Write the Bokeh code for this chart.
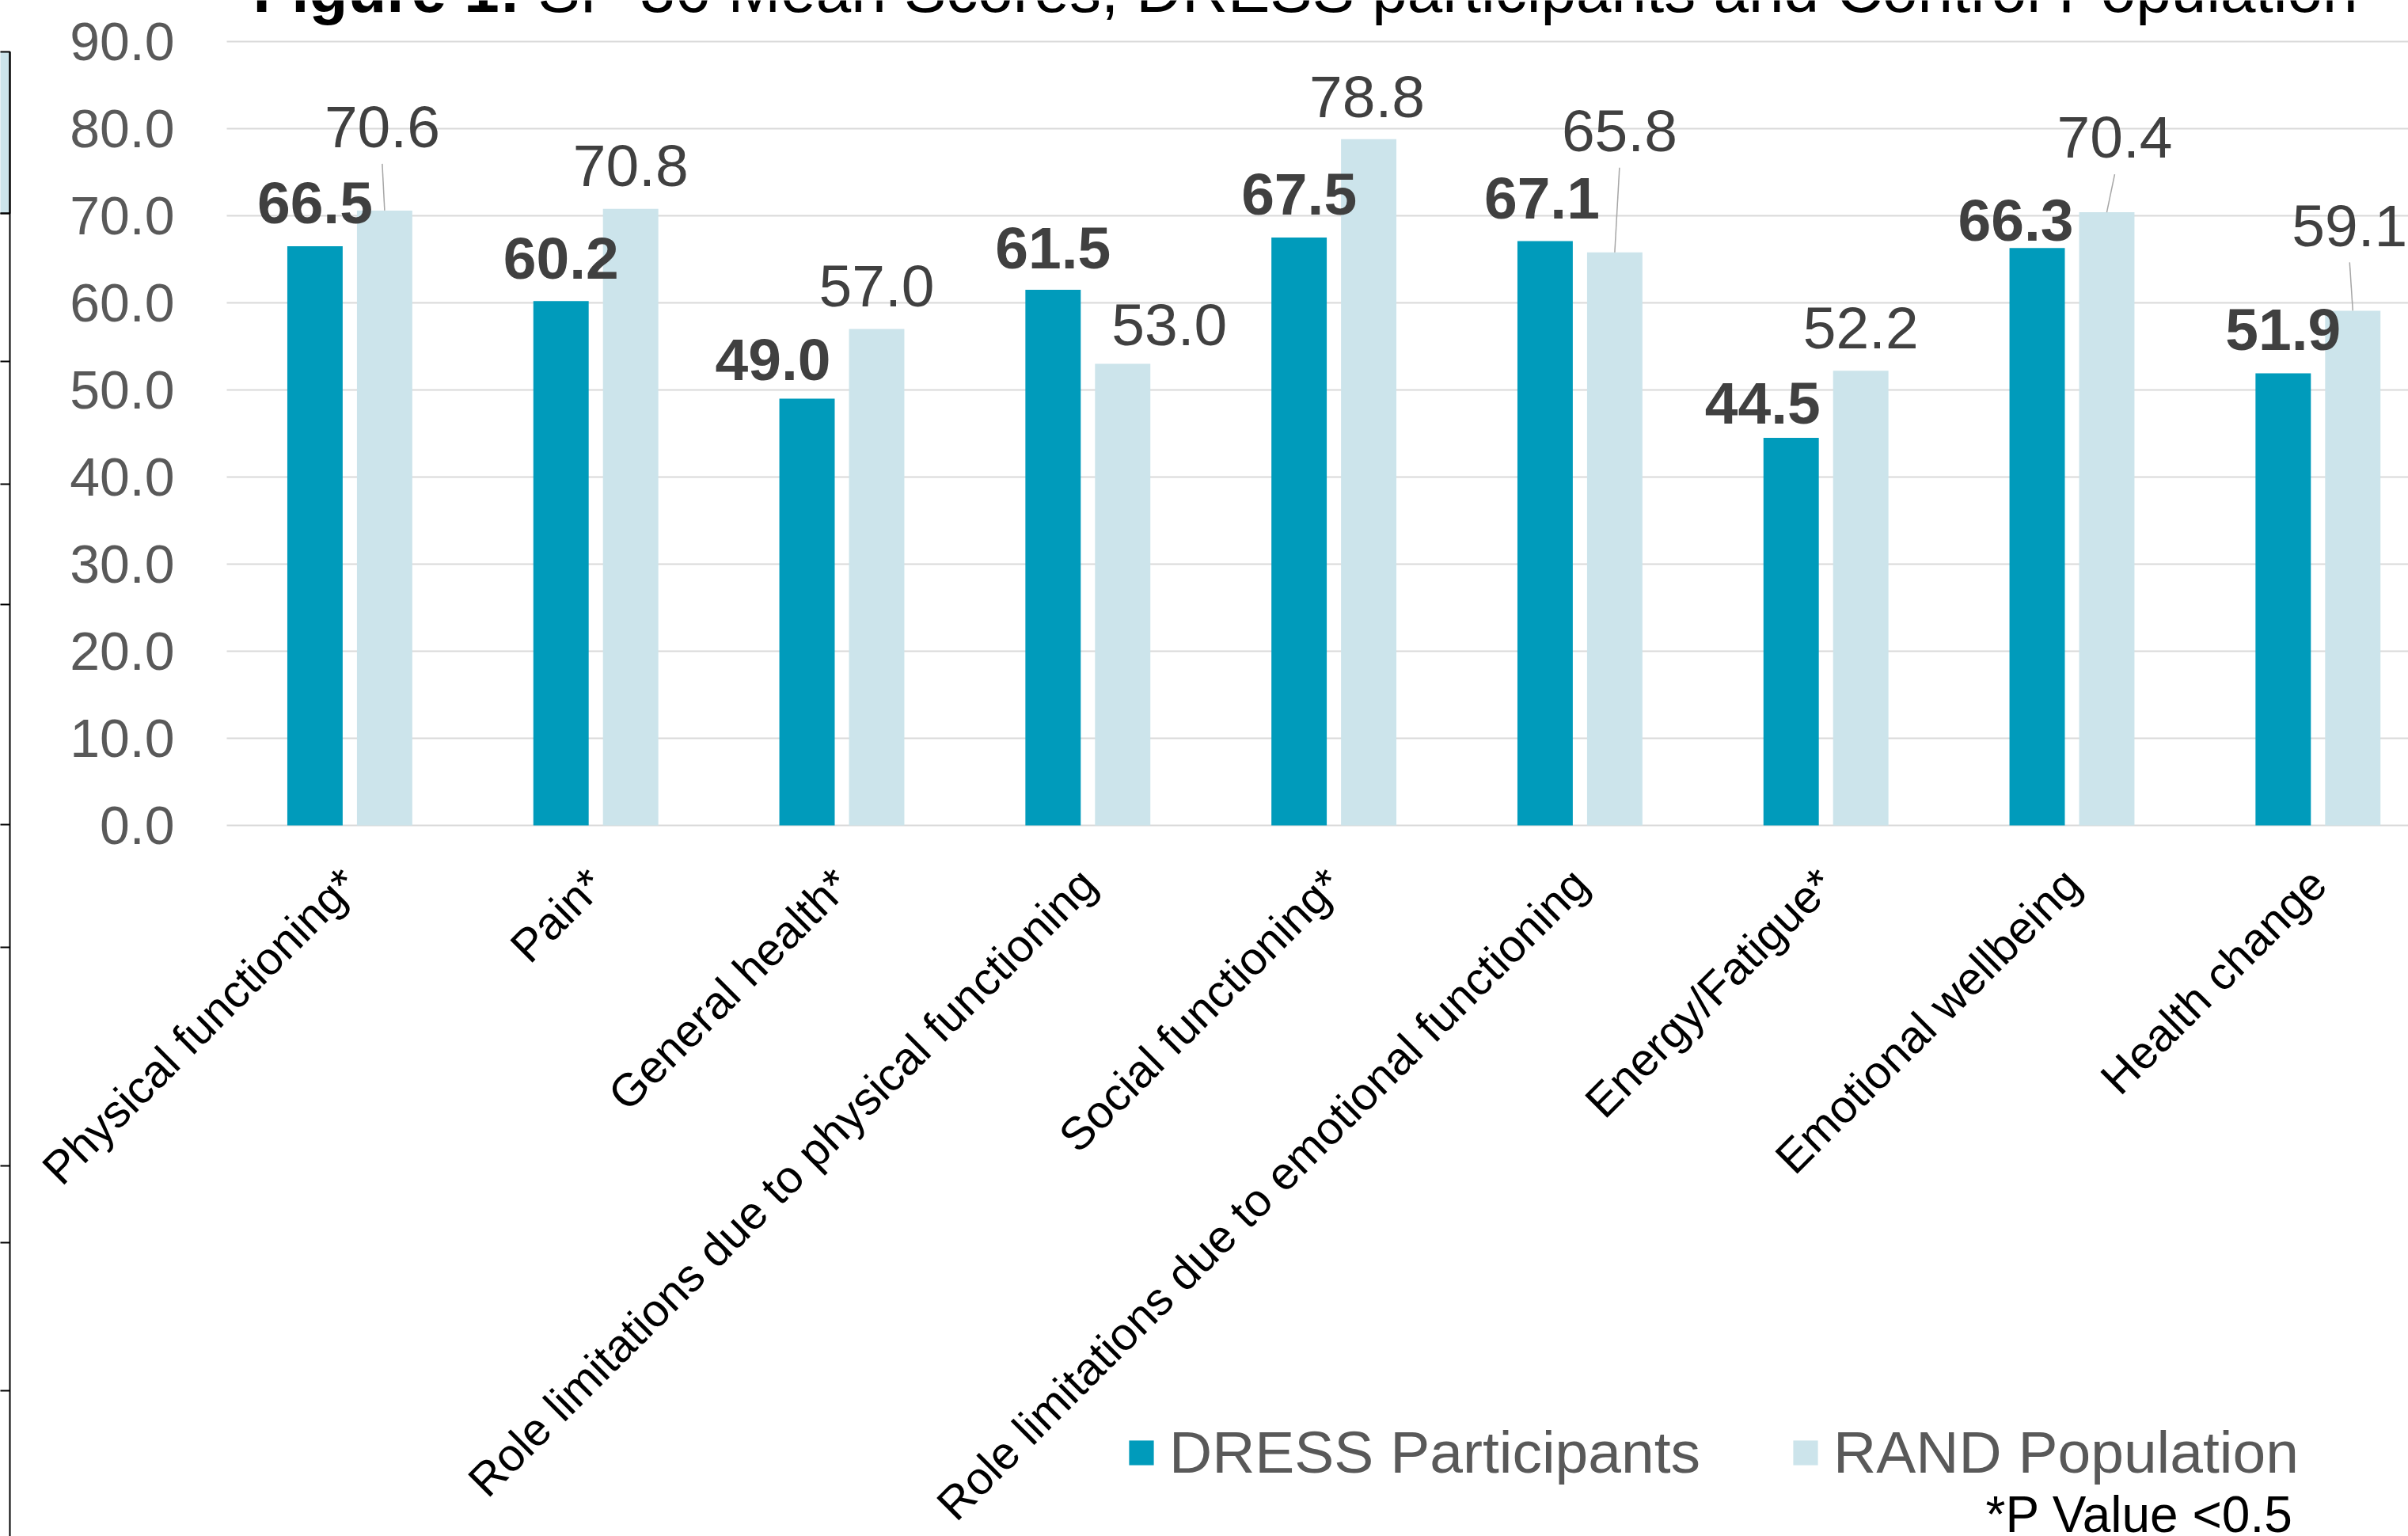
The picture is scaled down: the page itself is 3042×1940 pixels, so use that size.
import math
from bokeh.plotting import figure
from bokeh.models import Range1d, FixedTicker, Legend, LegendItem, Label, ColumnDataSource
from bokeh.embed import file_html
from bokeh.resources import INLINE
from bokeh.core.properties import value

# ---------------- data ----------------
categories = [
    "Physical functioning*",
    "Pain*",
    "General health*",
    "Role limitations due to physical functioning",
    "Social functioning*",
    "Role limitations due to emotional functioning",
    "Energy/Fatigue*",
    "Emotional wellbeing",
    "Health change",
]
dress_scores = [66.5, 60.2, 49.0, 61.5, 67.5, 67.1, 44.5, 66.3, 51.9]
rand_scores = [70.6, 70.8, 57.0, 53.0, 78.8, 65.8, 52.2, 70.4, 59.1]
series_names = ["DRESS Participants", "RAND Population"]
y_ticks = [0, 10, 20, 30, 40, 50, 60, 70, 80, 90]
y_tick_labels = ["0.0", "10.0", "20.0", "30.0", "40.0", "50.0", "60.0", "70.0", "80.0", "90.0"]
title_bold = "Figure 1:"
title_rest = "SF-36 Mean Scores, DRESS participants and Control Population"
footnote = "*P Value <0.5"

# ---------------- layout / style (pixels) ----------------
W, H = 3042, 1940
X0_PX = 286              # pixel where the plotting area starts
Y0_PX = 1042             # pixel row of score 0
STEP_PX = 310.8          # px per category
YPX = 11.0               # px per score unit
BAR_W = 0.225
DODGE = 0.1415
FONT = "Liberation Sans"
DARK = "#009BBB"
LIGHT = "#CCE4EB"
BASE_CORR = 0.35         # anchor shift (fraction of font size) to put text baseline where wanted

# manual data-label placement (pixel offsets: dx, gap between bar top and text baseline)
dress_dx = [0, 0, -43, 0, 0, -4, -36, -27, 0]
dress_gap = [29, 28, 23, 27, 29, 28, 18, 9, 29]
rand_dx = [-3, 0, 0, 59, -2, 6, 0, 10, -4]
rand_gap = [79, 28, 28, 23, 27, 127, 28, 68, 81]


def px_x(px):
    return (px - X0_PX) / STEP_PX


def px_y(py):
    return (Y0_PX - py) / YPX


x_start, x_end = px_x(0), px_x(W)
y_start, y_end = px_y(H), px_y(0)

centers = [i + 0.5 for i in range(len(categories))]
x_dress = [c - DODGE for c in centers]
x_rand = [c + DODGE for c in centers]

p = figure(width=W, height=H, x_range=Range1d(x_start, x_end), y_range=Range1d(y_start, y_end),
           output_backend="svg", toolbar_location=None, min_border=0)
p.outline_line_color = None
p.background_fill_color = "white"
p.border_fill_color = "white"
p.grid.visible = False

# horizontal gridlines (from the start of the plotting area to the right edge)
p.segment(x0=[0] * len(y_ticks), y0=y_ticks, x1=[x_end] * len(y_ticks), y1=y_ticks,
          line_color="#D9D9D9", line_width=2)

# bars
r_dress = p.vbar(x=x_dress, top=dress_scores, width=BAR_W, bottom=0,
                 fill_color=DARK, line_color=None)
r_rand = p.vbar(x=x_rand, top=rand_scores, width=BAR_W, bottom=0,
                fill_color=LIGHT, line_color=None)

# leader lines for RAND labels moved away from their bars
lx0, ly0, lx1, ly1 = [], [], [], []
for xr, v, dx, gap in zip(x_rand, rand_scores, rand_dx, rand_gap):
    if gap > 50:
        lx0.append(xr + dx / STEP_PX)
        ly0.append(v + (gap - 20) / YPX)
        lx1.append(xr)
        ly1.append(v)
p.segment(x0=lx0, y0=ly0, x1=lx1, y1=ly1, line_color="#A6A6A6", line_width=1.5)

# data labels
LBL = 75
src_d = ColumnDataSource(dict(x=x_dress, y=dress_scores, t=["%.1f" % v for v in dress_scores],
                              dx=dress_dx, dy=[-(g + BASE_CORR * LBL) for g in dress_gap]))
src_r = ColumnDataSource(dict(x=x_rand, y=rand_scores, t=["%.1f" % v for v in rand_scores],
                              dx=rand_dx, dy=[-(g + BASE_CORR * LBL) for g in rand_gap]))
p.text(x="x", y="y", text="t", x_offset="dx", y_offset="dy", source=src_d,
       text_align="center", text_baseline="alphabetic", text_font=value(FONT),
       text_font_size="%dpx" % LBL, text_font_style="bold", text_color="#404040")
p.text(x="x", y="y", text="t", x_offset="dx", y_offset="dy", source=src_r,
       text_align="center", text_baseline="alphabetic", text_font=value(FONT),
       text_font_size="%dpx" % LBL, text_color="#404040")

# y axis, fixed at the start of the plotting area
ya = p.yaxis[0]
ya.fixed_location = 0
ya.ticker = FixedTicker(ticks=y_ticks)
ya.major_label_overrides = {t: s for t, s in zip(y_ticks, y_tick_labels)}
ya.axis_line_color = None
ya.major_tick_line_color = None
ya.minor_tick_line_color = None
ya.major_label_text_font = FONT
ya.major_label_text_font_size = "68px"
ya.major_label_text_color = "#595959"
ya.major_label_standoff = 60

# x axis, fixed at score 0
xa = p.xaxis[0]
xa.fixed_location = 0
xa.ticker = FixedTicker(ticks=centers)
xa.major_label_overrides = {c: s for c, s in zip(centers, categories)}
xa.axis_line_color = None
xa.major_tick_line_color = None
xa.minor_tick_line_color = None
xa.major_label_orientation = math.pi / 4
xa.major_label_text_font = FONT
xa.major_label_text_font_size = "58px"
xa.major_label_text_color = "#000000"
xa.major_label_standoff = 58

# legend
legend = Legend(items=[LegendItem(label=series_names[0], renderers=[r_dress]),
                       LegendItem(label=series_names[1], renderers=[r_rand])],
                orientation="horizontal", location=(1422, 63),
                glyph_width=39, glyph_height=39, label_standoff=16, spacing=113,
                padding=0, margin=0, border_line_color=None, background_fill_alpha=0,
                label_text_font=FONT, label_text_font_size="75px", label_text_color="#595959")
p.add_layout(legend)

# title (cut off at top of picture) and footnote
TT = 80
p.add_layout(Label(x=px_x(319), y=px_y(15 - BASE_CORR * TT), text=title_bold, text_font=FONT,
                   text_font_size="%dpx" % TT, text_font_style="bold", text_color="black",
                   text_baseline="alphabetic"))
p.add_layout(Label(x=px_x(679), y=px_y(15 - BASE_CORR * TT), text=title_rest, text_font=FONT,
                   text_font_size="%dpx" % TT, text_color="black", text_baseline="alphabetic"))
FN = 64
p.add_layout(Label(x=px_x(2508), y=px_y(1935 - BASE_CORR * FN), text=footnote, text_font=FONT,
                   text_font_size="%dpx" % FN, text_color="black", text_baseline="alphabetic"))

# left-edge fragment of a neighbouring table (pixel positions)
edge_ticks = [269, 456, 611, 763, 1041, 1196, 1472, 1569, 1756]
p.quad(left=[px_x(-3)], right=[px_x(12)], top=[px_y(65)], bottom=[px_y(269)],
       fill_color=LIGHT, line_color="black", line_width=2)
p.segment(x0=[px_x(12)], y0=[px_y(65)], x1=[px_x(12)], y1=[px_y(H + 5)],
          line_color="black", line_width=2)
p.segment(x0=[px_x(-3)] * len(edge_ticks), y0=[px_y(t) for t in edge_ticks],
          x1=[px_x(12)] * len(edge_ticks), y1=[px_y(t) for t in edge_ticks],
          line_color="black", line_width=2)

open("out.html", "w").write(file_html(p, INLINE))
